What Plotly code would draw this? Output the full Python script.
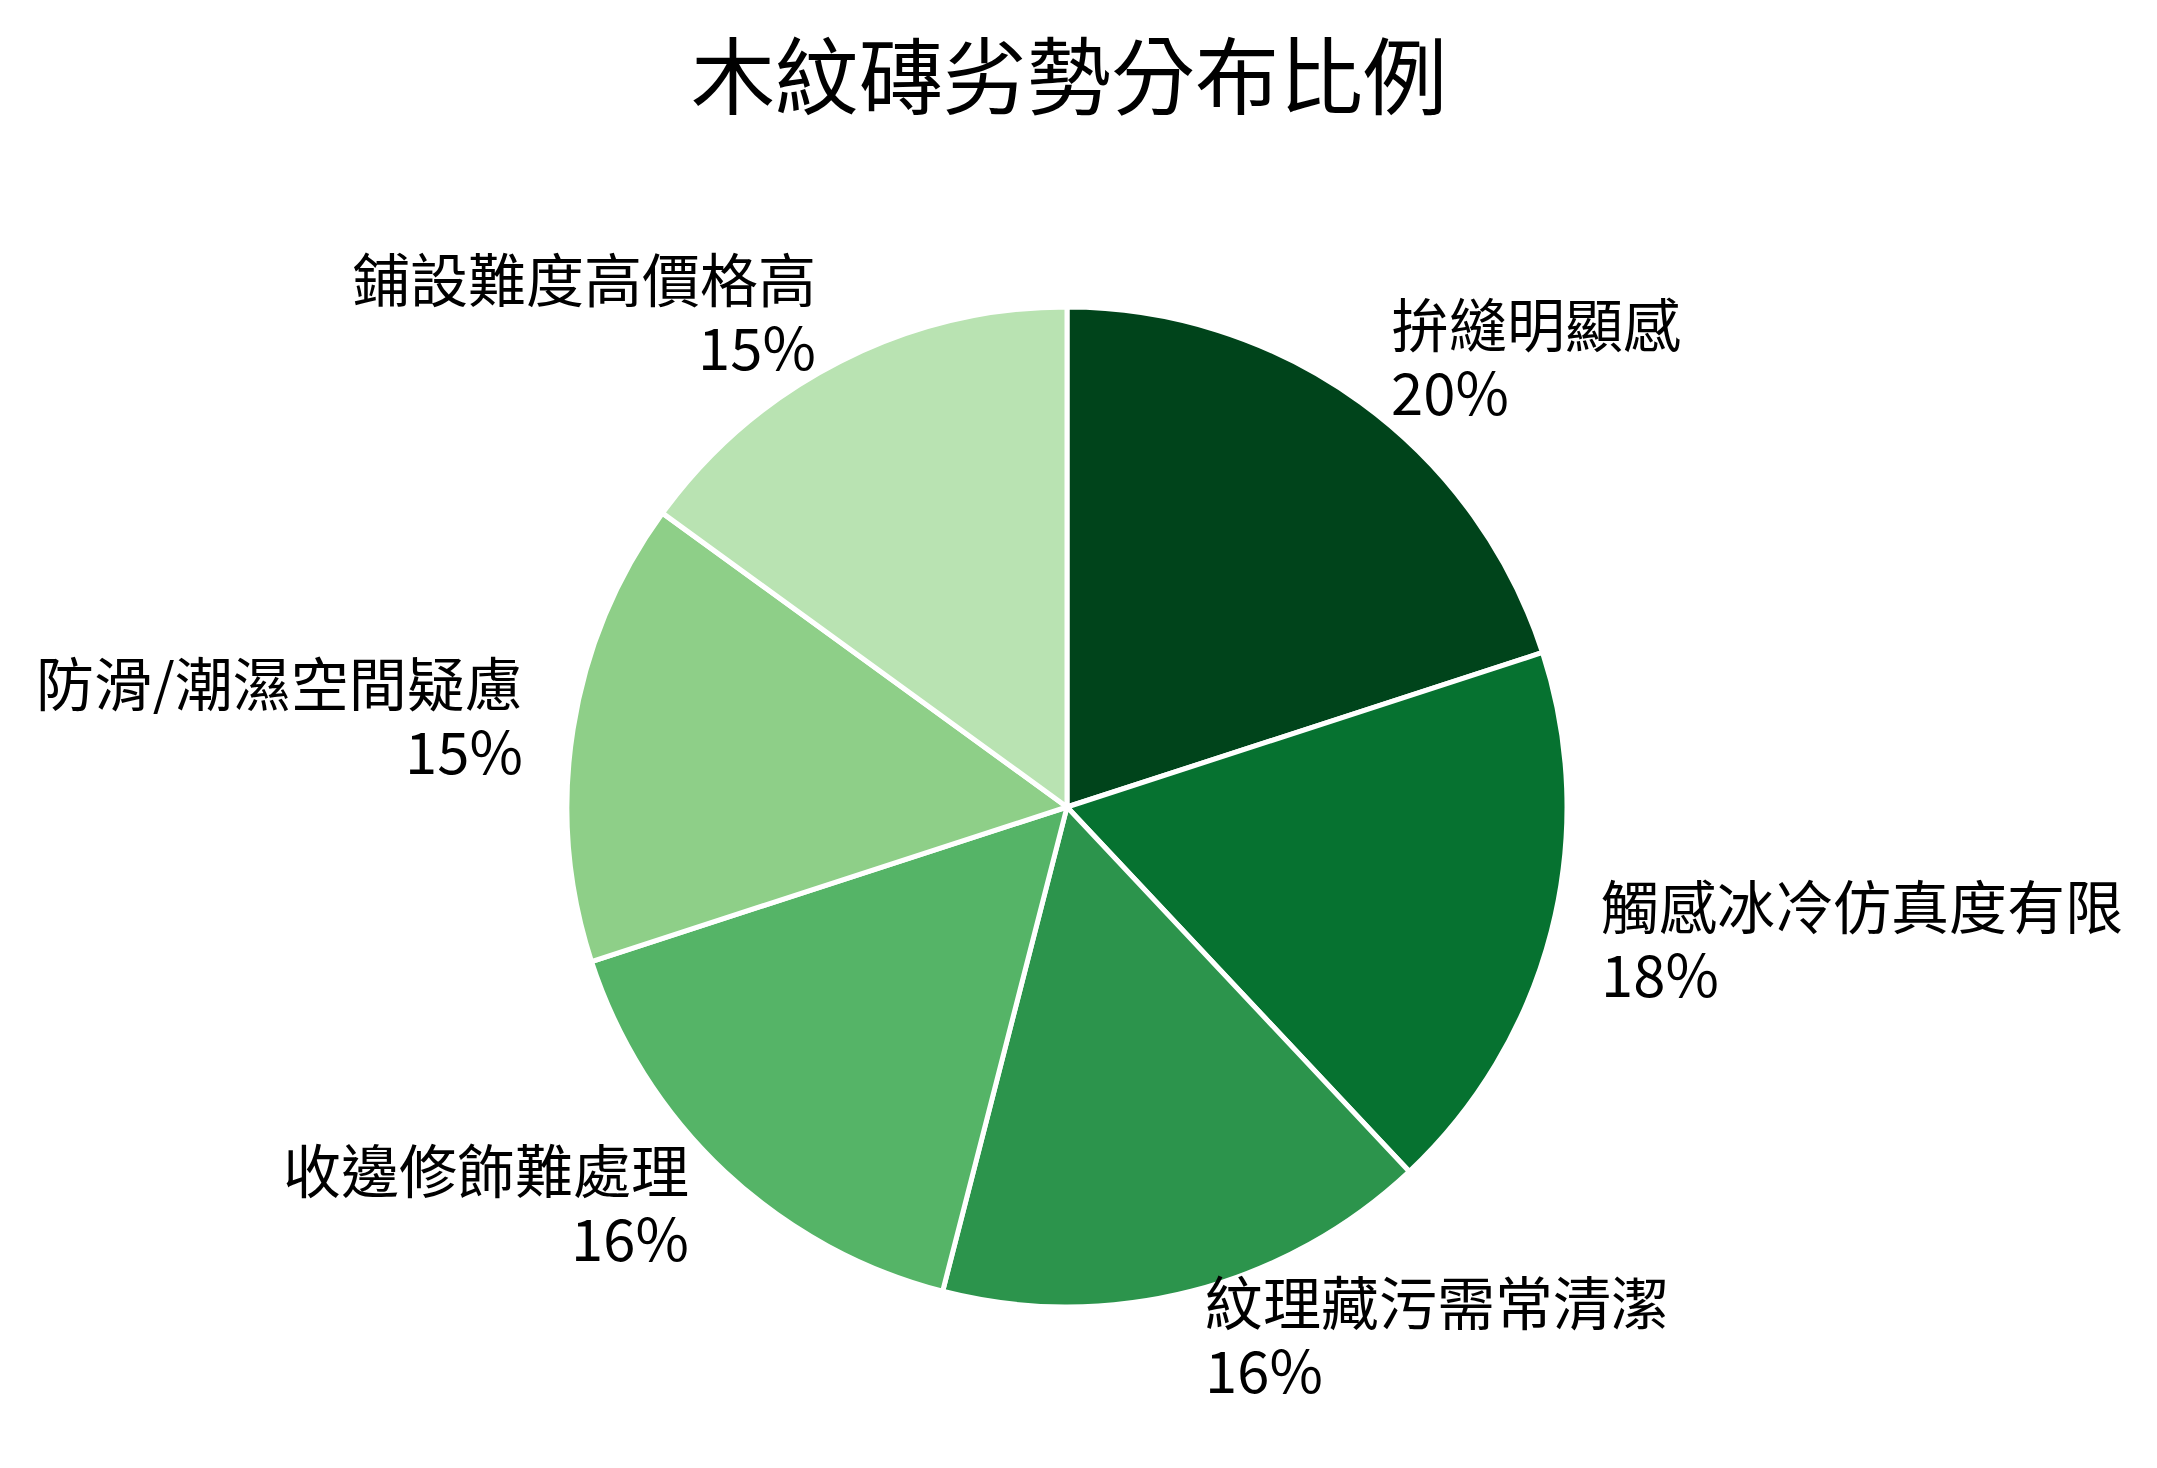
import math
import plotly.graph_objects as go

# ---- data ----
labels = ["拚縫明顯感", "觸感冰冷仿真度有限", "紋理藏污需常清潔",
          "收邊修飾難處理", "防滑/潮濕空間疑慮", "鋪設難度高價格高"]
values = [20, 18, 16, 16, 15, 15]
colors = ["#00441b", "#067230", "#2c944c", "#55b467", "#8ecf88", "#b9e3b2"]
title_text = "木紋磚劣勢分布比例"

# ---- layout constants (pixels) ----
W, H = 2157, 1468
CX, CY, R = 1059, 799, 500
FONT = "Noto Sans CJK TC"
LABEL_FS = 58
TITLE_FS = 84
LABEL_DIST = 1.1
LINE_H = 68
LABEL_DY = -6  # fine vertical adjustment of label blocks (px, negative = up)

dom_x = [(CX - R) / W, (CX + R) / W]
dom_y = [1 - (CY + R) / H, 1 - (CY - R) / H]

fig = go.Figure(go.Pie(
    labels=labels, values=values, sort=False, direction="clockwise",
    rotation=0, marker=dict(colors=colors, line=dict(color="white", width=5)),
    textinfo="none", hoverinfo="skip", showlegend=False,
    domain=dict(x=dom_x, y=dom_y),
))

# labels placed at 1.1 * radius along each slice's mid-angle
total = sum(values)
annotations = []
cum = 0.0
for lab, v in zip(labels, values):
    mid = (cum + v / 2) / total * 2 * math.pi
    cum += v
    px = CX + LABEL_DIST * R * math.sin(mid)
    py = CY - LABEL_DIST * R * math.cos(mid) + LABEL_DY
    xa = "left" if math.sin(mid) >= 0 else "right"
    pct = f"{round(v / total * 100)}%"
    for txt, shift in ((lab, LINE_H / 2), (pct, -LINE_H / 2)):
        annotations.append(dict(
            x=px / W, y=1 - py / H, xref="paper", yref="paper",
            text=txt, showarrow=False, xanchor=xa, yanchor="middle",
            align=xa, valign="middle", yshift=shift,
            height=LINE_H - 2, borderpad=0,
            font=dict(family=FONT, size=LABEL_FS, color="black"),
        ))

fig.update_layout(
    width=W, height=H, autosize=False,
    margin=dict(l=0, r=0, t=0, b=0),
    paper_bgcolor="white", plot_bgcolor="white",
    title=dict(text=title_text, x=1061 / W, xanchor="center",
               y=1 - 71 / H, yanchor="middle", yref="paper",
               font=dict(family=FONT, size=TITLE_FS, color="black")),
    annotations=annotations,
)

fig.write_html("out.html")
